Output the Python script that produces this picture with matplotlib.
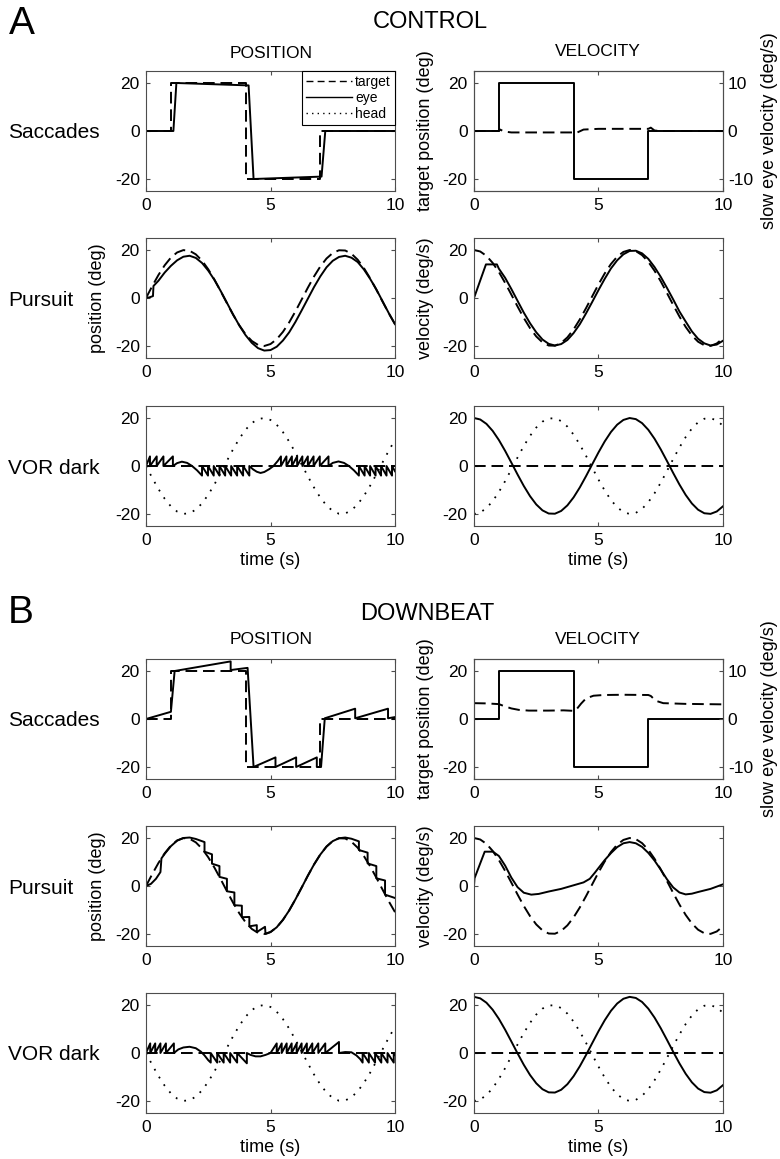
import numpy as np
import matplotlib
matplotlib.use('Agg')
import matplotlib.pyplot as plt
from matplotlib.lines import Line2D

plt.rcParams['font.family'] = ['Liberation Sans', 'DejaVu Sans']
plt.rcParams['axes.unicode_minus'] = False

# ---------------------------------------------------------------- data
# sinusoidal traces are sampled every 0.25 s
t_sine = np.linspace(0, 10, 41)

target_pos = [0.0, 4.95, 9.59, 13.63, 16.83, 18.98, 19.95, 19.68, 18.19, 15.56,
              11.97, 7.63, 2.82, -2.16, -7.02, -11.43, -15.14, -17.90, -19.55, -19.99,
              -19.18, -17.18, -14.11, -10.17, -5.59, -0.66, 4.30, 9.00, 13.14, 16.46,
              18.76, 19.89, 19.79, 18.45, 15.97, 12.48, 8.24, 3.49, -1.50, -6.39, -10.88]
target_vel = [20.0, 19.38, 17.55, 14.63, 10.81, 6.31, 1.41, -3.56, -8.32, -12.56,
              -16.02, -18.49, -19.80, -19.88, -18.73, -16.41, -13.07, -8.92, -4.22, 0.75,
              5.67, 10.24, 14.17, 17.22, 19.20, 19.99, 19.53, 17.86, 15.08, 11.36,
              6.93, 2.07, -2.91, -7.71, -12.04, -15.61, -18.22, -19.69, -19.94, -18.95, -16.78]
head_pos = [0.0, -4.95, -9.59, -13.63, -16.83, -18.98, -19.95, -19.68, -18.19, -15.56,
            -11.97, -7.63, -2.82, 2.16, 7.02, 11.43, 15.14, 17.90, 19.55, 19.99,
            19.18, 17.18, 14.11, 10.17, 5.59, 0.66, -4.30, -9.00, -13.14, -16.46,
            -18.76, -19.89, -19.79, -18.45, -15.97, -12.48, -8.24, -3.49, 1.50, 6.39, 10.88]
head_vel = [-20.0, -19.38, -17.55, -14.63, -10.81, -6.31, -1.41, 3.56, 8.32, 12.56,
            16.02, 18.49, 19.80, 19.88, 18.73, 16.41, 13.07, 8.92, 4.22, -0.75,
            -5.67, -10.24, -14.17, -17.22, -19.20, -19.99, -19.53, -17.86, -15.08, -11.36,
            -6.93, -2.07, 2.91, 7.71, 12.04, 15.61, 18.22, 19.69, 19.94, 18.95, 16.78]

# VOR in the dark: slow eye velocity (first sample is the value at onset)
ctrl_vor_vel = [0.0, 20.0, 19.38, 17.55, 14.63, 10.81, 6.31, 1.41, -3.56, -8.32, -12.56,
                -16.02, -18.49, -19.80, -19.88, -18.73, -16.41, -13.07, -8.92, -4.22, 0.75,
                5.67, 10.24, 14.17, 17.22, 19.20, 19.99, 19.53, 17.86, 15.08, 11.36,
                6.93, 2.07, -2.91, -7.71, -12.04, -15.61, -18.22, -19.69, -19.94, -18.95, -16.78]
down_vor_vel = [15.0, 23.40, 22.78, 20.95, 18.03, 14.21, 9.71, 4.81, -0.16, -4.92, -9.16,
                -12.62, -15.09, -16.40, -16.48, -15.33, -13.01, -9.67, -5.52, -0.82, 4.15,
                9.07, 13.64, 17.57, 20.62, 22.60, 23.39, 22.93, 21.26, 18.48, 14.76,
                10.33, 5.47, 0.49, -4.31, -8.64, -12.21, -14.82, -16.29, -16.54, -15.55, -13.38]

# saccade paradigm: target steps (deg)
sacc_target = [(0, 0), (1, 0), (1, 20), (4, 20), (4, -20), (7, -20), (7, 0), (10, 0)]

ctrl_sacc_eye = [(0, 0), (1.1, 0), (1.22, 20), (4.12, 19), (4.32, -20), (7.05, -19),
                 (7.2, 0), (10, 0)]
down_sacc_eye = [(0, 0), (1.0, 3.0), (1.15, 20), (3.4, 24), (3.4, 20.4), (4.08, 21.3),
                 (4.32, -20), (5.2, -16), (5.2, -20), (6.03, -16), (6.03, -20),
                 (6.86, -16), (6.86, -20), (7.03, -20), (7.18, 0.3), (8.4, 4.3), (8.4, 0.3),
                 (9.72, 4.3), (9.72, 0.3), (10, 0.8)]

# slow eye velocity during saccade paradigm (deg/s, right axis)
ctrl_slow_vel = [(0, 0), (1.0, 0), (1.05, 0.3), (1.2, -0.1), (1.5, -0.3), (4.0, -0.3),
                 (4.05, -0.45), (4.15, -0.3), (4.4, 0.3), (5.0, 0.45), (7.0, 0.45),
                 (7.1, 0.7), (7.25, 0.1), (7.5, 0.0), (10, 0.0)]
down_slow_vel = [(0, 3.3), (0.5, 3.25), (1.0, 3.1), (1.2, 2.7), (1.5, 2.2), (1.8, 1.9),
                 (2.2, 1.75), (3.0, 1.75), (3.6, 1.8), (4.0, 1.7), (4.1, 1.9), (4.3, 3.2),
                 (4.5, 4.3), (4.8, 4.85), (5.2, 5.0), (6.0, 5.05), (7.0, 5.0), (7.1, 4.8),
                 (7.3, 3.8), (7.6, 3.3), (8.5, 3.15), (10, 3.05)]

# pursuit: eye position and velocity
ctrl_purs_eye = [(0, 0), (0.15, 0.3), (0.28, 0.8), (0.3, 5.0), (0.5, 7.2), (0.75, 10.6),
                 (1.0, 13.4), (1.25, 15.7), (1.5, 17.2), (1.75, 17.6), (2.0, 16.7),
                 (2.25, 14.6), (2.5, 11.4), (2.75, 7.5), (3.0, 2.9), (3.25, -2.0),
                 (3.5, -6.9), (3.75, -11.5), (4.0, -15.5), (4.25, -18.7), (4.5, -20.9),
                 (4.75, -21.9), (5.0, -21.7), (5.25, -20.3), (5.5, -17.7), (5.75, -14.3),
                 (6.0, -10.0), (6.25, -5.2), (6.5, -0.3), (6.75, 4.6), (7.0, 9.0),
                 (7.25, 12.8), (7.5, 15.5), (7.75, 17.1), (8.0, 17.6), (8.25, 16.8),
                 (8.5, 15.0), (8.75, 11.9), (9.0, 8.0), (9.25, 3.6), (9.5, -1.35),
                 (9.75, -6.3), (10.0, -10.9)]
ctrl_purs_vel = [(0, 0), (0.48, 14.0), (0.92, 14.0), (1.0, 12.2), (1.25, 8.4), (1.5, 3.75),
                 (1.75, -1.2), (2.0, -6.1), (2.25, -10.5), (2.5, -14.3), (2.75, -17.3),
                 (3.0, -19.1), (3.25, -19.8), (3.5, -19.2), (3.75, -17.5), (4.0, -14.6),
                 (4.25, -10.9), (4.5, -6.4), (4.75, -1.6), (5.0, 3.3), (5.25, 8.0),
                 (5.5, 12.3), (5.75, 15.7), (6.0, 18.2), (6.25, 19.6), (6.5, 19.7),
                 (6.75, 18.6), (7.0, 16.3), (7.25, 12.9), (7.5, 8.8), (7.75, 4.2),
                 (8.0, -0.6), (8.25, -5.6), (8.5, -9.8), (8.75, -13.9), (9.0, -17.0),
                 (9.25, -18.9), (9.5, -19.8), (9.75, -19.4), (10.0, -17.8)]
down_purs_eye = [(0, 0), (0.2, 0.9), (0.4, 3.0), (0.58, 5.8), (0.62, 11.5), (0.75, 13.4),
                 (1.0, 16.6), (1.25, 18.9), (1.5, 20.0), (1.75, 20.2), (2.0, 19.6),
                 (2.35, 18.3), (2.35, 14.3), (2.65, 13.2), (2.65, 9.3), (2.95, 8.3),
                 (2.95, 3.8), (3.25, 3.0), (3.25, -2.2), (3.55, -2.7), (3.55, -8.0),
                 (3.85, -8.2), (3.85, -13.0), (4.15, -12.9), (4.15, -16.8), (4.45, -16.3),
                 (4.45, -19.2), (4.78, -17.0), (4.8, -20.0), (5.0, -19.2), (5.25, -17.2),
                 (5.5, -14.1), (5.75, -10.2), (6.0, -5.6), (6.25, -0.7), (6.5, 4.3),
                 (6.75, 9.0), (7.0, 13.1), (7.25, 16.4), (7.5, 18.7), (7.75, 19.9),
                 (8.0, 20.2), (8.25, 19.7), (8.55, 18.6), (8.55, 15.0), (8.9, 13.9),
                 (8.9, 9.4), (9.25, 8.3), (9.25, 3.2), (9.6, 2.3), (9.6, -3.6),
                 (10.0, -5.0)]
down_purs_vel = [(0, 0), (0.02, 3.2), (0.43, 14.3), (0.76, 14.3), (1.0, 12.5), (1.25, 8.5),
                 (1.5, 3.5), (1.75, -0.5), (2.0, -2.8), (2.3, -3.6), (2.6, -3.3),
                 (3.0, -2.3), (3.5, -1.2), (4.0, 0.3), (4.4, 1.5), (4.65, 3.0), (4.85, 5.5),
                 (5.0, 7.5), (5.25, 10.8), (5.5, 13.7), (5.75, 16.2), (6.0, 17.8),
                 (6.25, 18.3), (6.5, 17.8), (6.75, 16.3), (7.0, 13.8), (7.25, 10.6),
                 (7.5, 6.8), (7.75, 2.8), (8.0, -0.6), (8.25, -2.7), (8.5, -3.5),
                 (8.75, -3.2), (9.0, -2.5), (9.5, -1.2), (10.0, 0.7)]

# VOR in the dark: eye position (nystagmus)
ctrl_vor_eye = [(0, 0), (0.16, 4), (0.16, 0), (0.43, 4), (0.43, 0), (0.70, 4), (0.70, 0),
                (1.08, 4), (1.08, 0), (1.25, 1.2), (1.44, 1.8), (1.65, 1.3), (1.85, 0),
                (2.05, -1.8), (2.25, -4), (2.25, 0), (2.49, -4), (2.49, 0), (2.72, -4),
                (2.72, 0), (2.95, -4), (2.95, 0), (3.18, -4), (3.18, 0), (3.42, -4),
                (3.42, 0), (3.66, -4), (3.66, 0), (3.90, -4), (3.90, 0), (4.15, -4),
                (4.15, 0), (4.3, -1.4), (4.45, -2.4), (4.6, -2.9), (4.75, -2.5),
                (4.95, -1.3), (5.12, 0), (5.3, 2.2), (5.42, 4), (5.42, 0), (5.64, 4),
                (5.64, 0), (5.86, 4), (5.86, 0), (6.07, 4), (6.07, 0), (6.28, 4), (6.28, 0),
                (6.5, 4), (6.5, 0), (6.73, 4), (6.73, 0), (6.98, 4), (6.98, 0), (7.33, 4),
                (7.33, 0), (7.5, 1.3), (7.73, 1.9), (7.95, 1.3), (8.15, 0), (8.35, -1.8),
                (8.55, -4), (8.55, 0), (8.78, -4), (8.78, 0), (9.0, -4), (9.0, 0),
                (9.22, -4), (9.22, 0), (9.44, -4), (9.44, 0), (9.66, -4), (9.66, 0),
                (9.88, -4), (9.88, 0), (10, -2.2)]
down_vor_eye = [(0, 0), (0.17, 4), (0.17, 0), (0.37, 4), (0.37, 0), (0.58, 4), (0.58, 0),
                (0.8, 4), (0.8, 0), (1.12, 4), (1.12, 0), (1.3, 1.5), (1.5, 2.3),
                (1.75, 2.6), (2.0, 2.0), (2.2, 0.6), (2.35, -1.0), (2.5, -3.0), (2.6, -4),
                (2.6, 0), (2.86, -4), (2.86, 0), (3.12, -4), (3.12, 0), (3.38, -4),
                (3.38, 0), (3.66, -4), (3.66, 0), (4.05, -4.3), (4.05, 0), (4.2, -0.8),
                (4.4, -1.4), (4.6, -1.4), (4.8, -0.8), (5.0, 0), (5.25, 4), (5.25, 0),
                (5.45, 4), (5.45, 0), (5.65, 4), (5.65, 0), (5.85, 4), (5.85, 0), (6.05, 4),
                (6.05, 0), (6.25, 4), (6.25, 0), (6.46, 4), (6.46, 0), (6.68, 4), (6.68, 0),
                (6.92, 4), (6.92, 0), (7.2, 4), (7.2, 0), (7.75, 4.6), (7.75, 0),
                (8.0, 0.4), (8.25, 0.3), (8.45, -1.0), (8.6, -2.5), (8.7, -4), (8.7, 0),
                (8.95, -4), (8.95, 0), (9.2, -4), (9.2, 0), (9.45, -4), (9.45, 0),
                (9.7, -4), (9.7, 0), (9.95, -4), (9.95, 0), (10, -0.8)]

vor_target = [(0, 0), (10, 0)]

# ---------------------------------------------------------------- figure
W, H = 780, 1159
fig = plt.figure(figsize=(W / 100, H / 100), dpi=100)

SOLID = dict(color='k', lw=1.4)
DASH = dict(color='k', lw=1.4, ls=(0, (6, 3)))
DOT = dict(color='k', lw=1.3, ls=(0, (1, 4)))
TICK_FS = 12.5
LABEL_FS = 13


def xy(pairs):
    arr = np.array(pairs, dtype=float)
    return arr[:, 0], arr[:, 1]


def make_axes(left, top, right_ticks=True):
    ax = fig.add_axes([left / W, 1 - (top + 120) / H, 249 / W, 120 / H])
    ax.set_xlim(0, 10)
    ax.set_ylim(-25, 25)
    ax.set_xticks([0, 5, 10])
    ax.set_yticks([-20, 0, 20])
    ax.tick_params(direction='in', length=3, width=0.8, color='0.3',
                   labelsize=TICK_FS, top=True, right=right_ticks)
    ax.tick_params(axis='x', pad=5)
    ax.tick_params(axis='y', pad=4.5)
    for s in ax.spines.values():
        s.set_linewidth(0.8)
        s.set_color('0.3')
    return ax


def draw_block(tops, sacc_eye, slow_vel, purs_eye, purs_vel, vor_eye, vor_vel,
               with_legend):
    L, R = 146, 474

    # saccades - position
    ax = make_axes(L, tops[0])
    ax.plot(*xy(sacc_target), **DASH)
    ax.plot(*xy(sacc_eye), **SOLID)
    if with_legend:
        handles = [Line2D([], [], color='k', lw=1.0, ls=(0, (5, 3))),
                   Line2D([], [], color='k', lw=1.0),
                   Line2D([], [], color='k', lw=1.0, ls=(0, (1, 3)))]
        leg = ax.legend(handles, ['target', 'eye', 'head'], loc='upper right',
                        bbox_to_anchor=(1, 1), borderaxespad=0, fontsize=10,
                        handlelength=3.3, handletextpad=0.25, labelspacing=0.12,
                        borderpad=0.3, fancybox=False, framealpha=1, edgecolor='k')
        leg.get_frame().set_linewidth(0.8)

    # saccades - velocity (twin axis)
    ax = make_axes(R, tops[0], right_ticks=False)
    ax.plot(*xy(sacc_target), **SOLID)
    ax.set_ylabel('target position (deg)', fontsize=LABEL_FS)
    ax.yaxis.set_label_coords(-0.16, 0.5)
    ax2 = ax.twinx()
    ax2.set_ylim(-12.5, 12.5)
    ax2.set_yticks([-10, 0, 10])
    ax2.tick_params(direction='in', length=3, width=0.8, color='0.3',
                    labelsize=TICK_FS, pad=3.5)
    for s in ax2.spines.values():
        s.set_linewidth(0.8)
        s.set_color('0.3')
    ax2.plot(*xy(slow_vel), **DASH)
    ax2.set_ylabel('slow eye velocity (deg/s)', fontsize=LABEL_FS)
    ax2.yaxis.set_label_coords(1.152, 0.5)

    # pursuit
    ax = make_axes(L, tops[1])
    ax.plot(t_sine, target_pos, **DASH)
    ax.plot(*xy(purs_eye), **SOLID)
    ax.set_ylabel('position (deg)', fontsize=LABEL_FS)
    ax.yaxis.set_label_coords(-0.16, 0.5)

    ax = make_axes(R, tops[1])
    ax.plot(t_sine, target_vel, **DASH)
    ax.plot(*xy(purs_vel), **SOLID)
    ax.set_ylabel('velocity (deg/s)', fontsize=LABEL_FS)
    ax.yaxis.set_label_coords(-0.16, 0.5)

    # VOR in the dark
    ax = make_axes(L, tops[2])
    ax.plot(*xy(vor_target), **DASH)
    ax.plot(*xy(vor_eye), **SOLID)
    ax.plot(t_sine, head_pos, **DOT)
    ax.set_xlabel('time (s)', fontsize=LABEL_FS, labelpad=3)

    ax = make_axes(R, tops[2])
    ax.plot(*xy(vor_target), **DASH)
    ax.plot(np.concatenate(([0.0], t_sine)), vor_vel, **SOLID)
    ax.plot(t_sine, head_vel, **DOT)
    ax.set_xlabel('time (s)', fontsize=LABEL_FS, labelpad=3)

    # row labels
    for top, name in zip(tops, ['Saccades', 'Pursuit', 'VOR dark']):
        fig.text(8 / W, 1 - (top + 62) / H, name, fontsize=15, ha='left', va='center')


def ftext(x, y, s, **kw):
    fig.text(x / W, 1 - y / H, s, ha='center', va='center', **kw)


# panel A: control
ftext(22, 24, 'A', fontsize=28)
ftext(430, 22, 'CONTROL', fontsize=17)
ftext(271, 53, 'POSITION', fontsize=12.5)
ftext(598, 52, 'VELOCITY', fontsize=12.5)
draw_block([71, 238, 406], ctrl_sacc_eye, ctrl_slow_vel, ctrl_purs_eye, ctrl_purs_vel,
           ctrl_vor_eye, ctrl_vor_vel, True)

# panel B: downbeat nystagmus
ftext(21, 613, 'B', fontsize=28)
ftext(427, 614, 'DOWNBEAT', fontsize=17)
ftext(271, 640, 'POSITION', fontsize=12.5)
ftext(598, 640, 'VELOCITY', fontsize=12.5)
draw_block([659, 826, 993], down_sacc_eye, down_slow_vel, down_purs_eye, down_purs_vel,
           down_vor_eye, down_vor_vel, False)

fig.savefig('out.png', dpi=100)
